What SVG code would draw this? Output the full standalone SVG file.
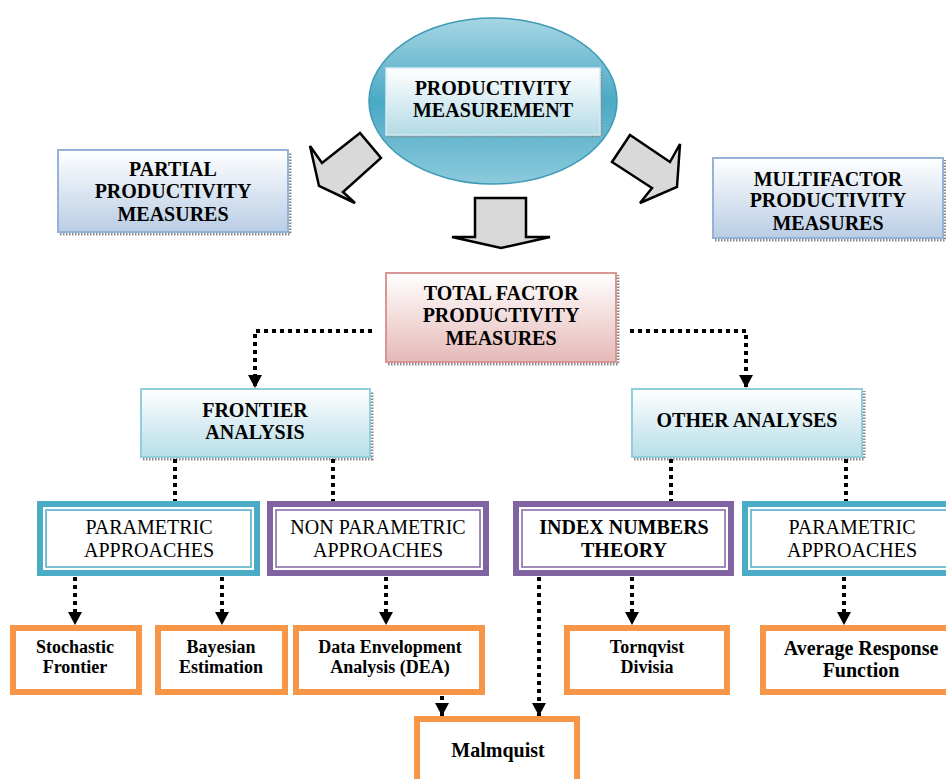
<svg xmlns="http://www.w3.org/2000/svg" width="946" height="779" viewBox="0 0 946 779">
<defs>
<style>
.t{font-family:"Liberation Serif","Times New Roman",serif;fill:#000;text-anchor:middle}
.b{font-weight:bold}
.h{font-size:20px}
.s{font-size:18px}
.con{fill:none;stroke:#000;stroke-width:4;stroke-dasharray:4 4}
.blk{fill:#d9d9d9;stroke:#000;stroke-width:2.5;stroke-linejoin:miter}
.shd{fill:none;stroke:#8a8a8a;stroke-width:3;stroke-dasharray:1.5 1.5}
.teal{fill:#fff;stroke:#4bacc6;stroke-width:6}
.tealIn{fill:none;stroke:#4bacc6;stroke-width:1.5}
.purp{fill:#fff;stroke:#8064a2;stroke-width:6}
.purpIn{fill:none;stroke:#8064a2;stroke-width:1.5}
.org{fill:#fff;stroke:#f79646;stroke-width:6}
</style>
<linearGradient id="gEll" x1="0" y1="0" x2="0" y2="1">
<stop offset="0" stop-color="#a6d6e3"/>
<stop offset="0.5" stop-color="#4aa9c5"/>
<stop offset="1" stop-color="#8ccadb"/>
</linearGradient>
<linearGradient id="gIn" x1="0" y1="0" x2="0" y2="1">
<stop offset="0" stop-color="#ffffff"/>
<stop offset="1" stop-color="#b4dbe6"/>
</linearGradient>
<linearGradient id="gBlue" x1="0" y1="0" x2="0" y2="1">
<stop offset="0" stop-color="#ffffff"/>
<stop offset="1" stop-color="#b9cde5"/>
</linearGradient>
<linearGradient id="gPink" x1="0" y1="0" x2="0" y2="1">
<stop offset="0" stop-color="#ffffff"/>
<stop offset="1" stop-color="#e5b9b7"/>
</linearGradient>
<linearGradient id="gCyan" x1="0" y1="0" x2="0" y2="1">
<stop offset="0" stop-color="#ffffff"/>
<stop offset="1" stop-color="#b7dee8"/>
</linearGradient>
<marker id="ah" markerUnits="userSpaceOnUse" markerWidth="14" markerHeight="14" viewBox="0 0 14 14" refX="13" refY="7" orient="auto">
<path d="M0,0 L13,7 L0,14 Z" fill="#000"/>
</marker>
</defs>

<g id="n-productivity-measurement">
<ellipse cx="493" cy="101" rx="124" ry="83" fill="url(#gEll)" stroke="#3f9bb5" stroke-width="1.5"/>
<polyline class="shd" points="388,136 601,136 601,70"/>
<rect x="386" y="68" width="214" height="67" fill="url(#gIn)" stroke="#d4ecf2" stroke-width="1.5"/>
<text class="t b h" x="493" y="95">PRODUCTIVITY</text>
<text class="t b h" x="493" y="117">MEASUREMENT</text>
</g>

<g id="arrows-block">
<polygon class="blk" points="310,146 322,163 360,133 381,158 343,192 355,203 319,186"/>
<polygon class="blk" points="630,135 612,162 652,188 640,203 677,187 680,144 670,162"/>
<polygon class="blk" points="475,198 526,198 526,237 550,237 501,248 452,237 475,237"/>
</g>

<g id="n-partial">
<polyline class="shd" points="60,234 290,234 290,152"/>
<rect x="58" y="150" width="230" height="82" fill="url(#gBlue)" stroke="#95b3d7" stroke-width="2"/>
<text class="t b h" x="173" y="176">PARTIAL</text>
<text class="t b h" x="173" y="198">PRODUCTIVITY</text>
<text class="t b h" x="173" y="221">MEASURES</text>
</g>

<g id="n-multifactor">
<polyline class="shd" points="715,240 945,240 945,160"/>
<rect x="713" y="158" width="230" height="80" fill="url(#gBlue)" stroke="#95b3d7" stroke-width="2"/>
<text class="t b h" x="828" y="186">MULTIFACTOR</text>
<text class="t b h" x="828" y="207">PRODUCTIVITY</text>
<text class="t b h" x="828" y="230">MEASURES</text>
</g>

<g id="n-tfp">
<polyline class="shd" points="388,364 618,364 618,275"/>
<rect x="386" y="273" width="230" height="89" fill="url(#gPink)" stroke="#d99694" stroke-width="2"/>
<text class="t b h" x="501" y="300">TOTAL FACTOR</text>
<text class="t b h" x="501" y="322">PRODUCTIVITY</text>
<text class="t b h" x="501" y="345">MEASURES</text>
</g>

<g id="n-frontier">
<polyline class="shd" points="143,459 372,459 372,391"/>
<rect x="141" y="389" width="229" height="68" fill="url(#gCyan)" stroke="#92cddc" stroke-width="2"/>
<text class="t b h" x="255" y="417">FRONTIER</text>
<text class="t b h" x="255" y="439">ANALYSIS</text>
</g>

<g id="n-other">
<polyline class="shd" points="634,459 864,459 864,391"/>
<rect x="632" y="389" width="230" height="68" fill="url(#gCyan)" stroke="#92cddc" stroke-width="2"/>
<text class="t b h" x="747" y="427">OTHER ANALYSES</text>
</g>

<g id="n-param-left">
<rect class="teal" x="40" y="504" width="217" height="69"/>
<rect class="tealIn" x="46" y="510" width="205" height="57"/>
<text class="t h" x="149" y="534">PARAMETRIC</text>
<text class="t h" x="149" y="557">APPROACHES</text>
</g>

<g id="n-nonparam">
<rect class="purp" x="270" y="504" width="216" height="69"/>
<rect class="purpIn" x="276" y="510" width="204" height="57"/>
<text class="t h" x="378" y="534">NON PARAMETRIC</text>
<text class="t h" x="378" y="557">APPROACHES</text>
</g>

<g id="n-index">
<rect class="purp" x="516" y="504" width="215" height="69"/>
<rect class="purpIn" x="522" y="510" width="203" height="57"/>
<text class="t b h" x="624" y="534">INDEX NUMBERS</text>
<text class="t b h" x="624" y="557">THEORY</text>
</g>

<g id="n-param-right">
<rect class="teal" x="745" y="504" width="216" height="69"/>
<rect class="tealIn" x="751" y="510" width="204" height="57"/>
<text class="t h" x="852" y="534">PARAMETRIC</text>
<text class="t h" x="852" y="557">APPROACHES</text>
</g>

<g id="n-stochastic">
<rect class="org" x="13" y="628" width="126" height="64"/>
<text class="t b s" x="75" y="653">Stochastic</text>
<text class="t b s" x="75" y="673">Frontier</text>
</g>

<g id="n-bayesian">
<rect class="org" x="158" y="628" width="127" height="64"/>
<text class="t b s" x="221" y="653">Bayesian</text>
<text class="t b s" x="221" y="673">Estimation</text>
</g>

<g id="n-dea">
<rect class="org" x="296" y="628" width="186" height="64"/>
<text class="t b s" x="390" y="653">Data Envelopment</text>
<text class="t b s" x="390" y="673">Analysis (DEA)</text>
</g>

<g id="n-tornqvist">
<rect class="org" x="567" y="628" width="160" height="64"/>
<text class="t b s" x="647" y="653">Tornqvist</text>
<text class="t b s" x="647" y="673">Divisia</text>
</g>

<g id="n-average">
<rect class="org" x="763" y="628" width="200" height="64"/>
<text class="t b h" x="861" y="655">Average Response</text>
<text class="t b h" x="861" y="677">Function</text>
</g>

<g id="n-malmquist">
<rect class="org" x="417" y="719" width="160" height="80"/>
<text class="t b h" x="498" y="757">Malmquist</text>
</g>

<g id="connectors">
<path class="con" d="M372,331 H255 V388" marker-end="url(#ah)"/>
<path class="con" d="M630,331 H746 V388" marker-end="url(#ah)"/>
<path class="con" d="M175,459 V501"/>
<path class="con" d="M333,459 V501"/>
<path class="con" d="M671,459 V501"/>
<path class="con" d="M846,459 V501"/>
<path class="con" d="M75,577 V625" marker-end="url(#ah)"/>
<path class="con" d="M222,577 V625" marker-end="url(#ah)"/>
<path class="con" d="M386,577 V625" marker-end="url(#ah)"/>
<path class="con" d="M632,577 V625" marker-end="url(#ah)"/>
<path class="con" d="M844,577 V625" marker-end="url(#ah)"/>
<path class="con" d="M539,577 V716" marker-end="url(#ah)"/>
<path class="con" d="M442,696 V716" marker-end="url(#ah)"/>
</g>
</svg>
